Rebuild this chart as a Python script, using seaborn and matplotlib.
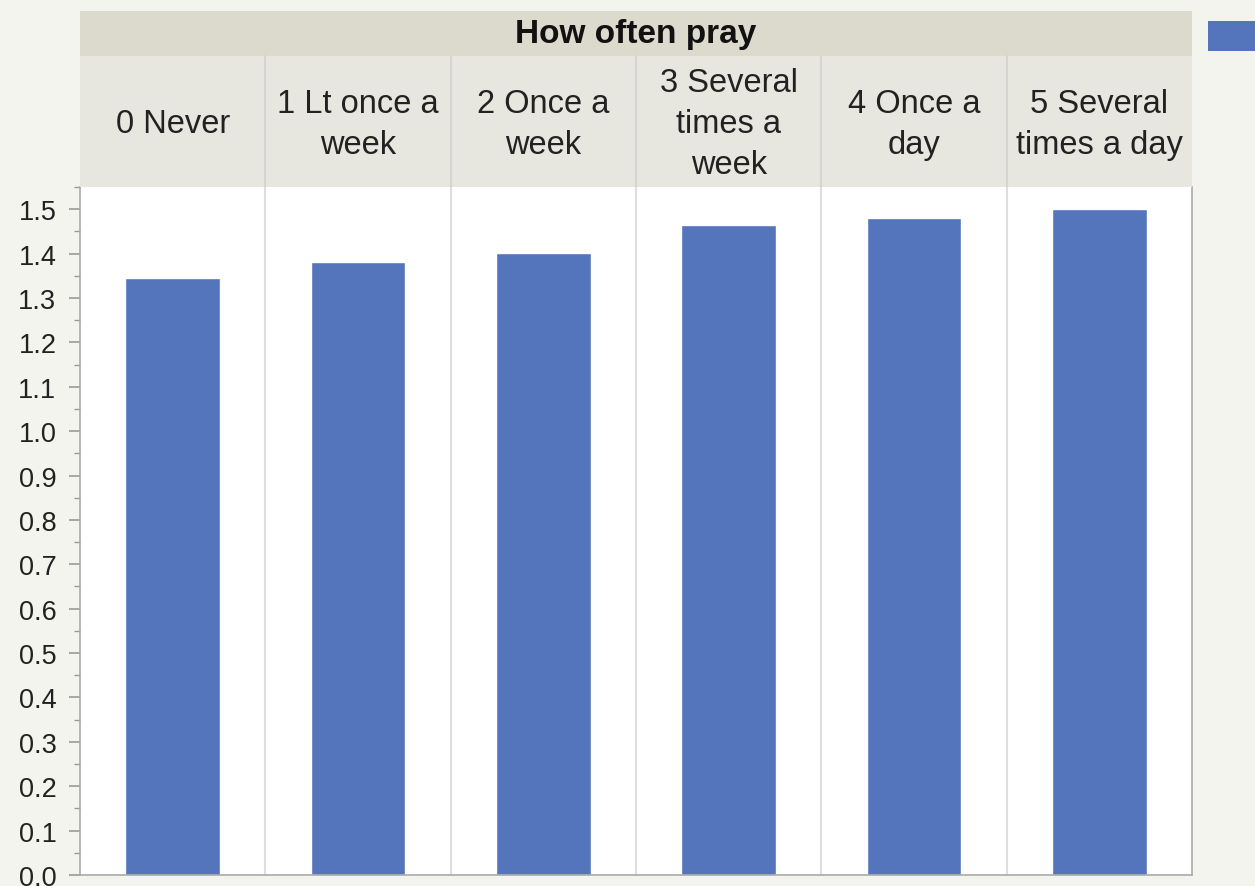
import matplotlib
matplotlib.use("Agg")
import matplotlib.pyplot as plt
import seaborn as sns
import pandas as pd
from matplotlib.patches import Rectangle
from matplotlib.ticker import MultipleLocator

# data
categories = ["0 Never", "1 Lt once a\nweek", "2 Once a\nweek", "3 Several\ntimes a\nweek",
              "4 Once a\nday", "5 Several\ntimes a day"]
values = [1.345, 1.381, 1.401, 1.464, 1.480, 1.500]
group_title = "How often pray"

df = pd.DataFrame({"cat": categories, "val": values})

sns.set_style("white")
plt.rcParams["font.family"] = ["Liberation Sans", "DejaVu Sans"]

bg = "#f4f4ef"
bar_col = "#5475bb"

fig = plt.figure(figsize=(12.55, 8.87), dpi=100, facecolor=bg)
ax = fig.add_axes([80 / 1255, 11 / 887, 1112 / 1255, 688 / 887])
hdr = fig.add_axes([80 / 1255, 699 / 887, 1112 / 1255, 176 / 887])

sns.barplot(data=df, x="cat", y="val", color=bar_col, saturation=1, width=0.51, ax=ax)
ax.set_xlim(-0.5, len(categories) - 0.5)
ax.set_ylim(0, 1.55)
ax.set_xlabel("")
ax.set_ylabel("")
ax.set_xticks([])
ax.yaxis.set_minor_locator(MultipleLocator(0.05))
ax.set_yticks([i / 10 for i in range(16)])
ax.set_yticklabels([f"{i / 10:.1f}" for i in range(16)], fontsize=19.5, color="#222222")
ax.tick_params(axis="y", which="major", length=8, width=1.2, color="#999999", left=True, pad=9)
ax.tick_params(axis="y", which="minor", length=4, width=1, color="#999999", left=True)
for i in range(1, len(categories)):
    ax.axvline(i - 0.5, color="#dedede", lw=1.5, zorder=0)
for s in ["left", "bottom", "right"]:
    ax.spines[s].set_color("#aaaaaa")
    ax.spines[s].set_linewidth(1.2)
ax.spines["top"].set_visible(False)

# header panel
hdr.set_xlim(-0.5, len(categories) - 0.5)
hdr.set_ylim(0, 1)
hdr.axis("off")
hdr.add_patch(Rectangle((-0.5, 0.744), len(categories), 0.256, facecolor="#dcdacc", edgecolor="none"))
hdr.add_patch(Rectangle((-0.5, 0), len(categories), 0.744, facecolor="#e8e7df", edgecolor="none"))
hdr.text((len(categories) - 1) / 2, 0.87, group_title, ha="center", va="center",
         fontsize=24, fontweight="bold", color="#111111")
for i, c in enumerate(categories):
    hdr.text(i, 0.36, c, ha="center", va="center", fontsize=23.5, color="#222222", linespacing=1.42)
    if i > 0:
        hdr.plot([i - 0.5, i - 0.5], [0, 0.744], color="#d4d4d0", lw=1.5)

# legend swatch at top right
fig.patches.append(Rectangle((1208 / 1255, 835 / 887), 60 / 1255, 30 / 887,
                             transform=fig.transFigure, facecolor=bar_col, edgecolor="none"))

fig.savefig("out.png", dpi=100, facecolor=bg)
